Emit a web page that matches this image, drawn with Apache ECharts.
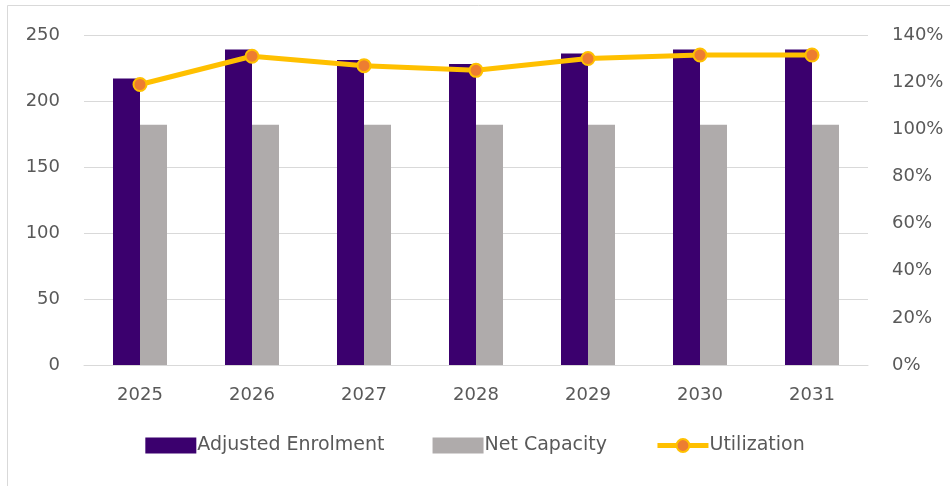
<!DOCTYPE html>
<html>
<head>
<meta charset="utf-8">
<title>chart</title>
<style>
  html, body { margin: 0; padding: 0; background: #fff; }
  #main { width: 950px; height: 486px; }
</style>
</head>
<body>
<div id="main"></div>
<script src="https://cdn.jsdelivr.net/npm/echarts@6/dist/echarts.min.js"></script>
<script>
var years = ['2025', '2026', '2027', '2028', '2029', '2030', '2031'];
var enrolment = [217, 239, 231, 228, 236, 239, 239];
var capacity = [182, 182, 182, 182, 182, 182, 182];
var utilization = [119, 131, 127, 125, 130, 131.5, 131.5];

var font = 'DejaVu Sans';
var textColor = '#595959';

var chart = echarts.init(document.getElementById('main'));
chart.setOption({
    backgroundColor: '#fff',
    animation: false,
    textStyle: { fontFamily: font },
    graphic: [
        { type: 'line', shape: { x1: 7.5, y1: 5.5, x2: 950, y2: 5.5 }, style: { stroke: '#d9d9d9', lineWidth: 1 } },
        { type: 'line', shape: { x1: 7.5, y1: 5.5, x2: 7.5, y2: 486 }, style: { stroke: '#d9d9d9', lineWidth: 1 } }
    ],
    legend: {
        bottom: 26,
        left: 'center',
        itemWidth: 51,
        itemHeight: 16,
        itemGap: 48,
        textStyle: { fontFamily: font, fontSize: 19, color: textColor, padding: [0, 0, 0, -4] },
        data: [
            { name: 'Adjusted Enrolment', icon: 'rect' },
            { name: 'Net Capacity', icon: 'rect' },
            { name: 'Utilization', lineStyle: { width: 5, color: '#ffc000' } }
        ]
    },
    grid: { left: 84, right: 82, top: 35, bottom: 121 },
    xAxis: {
        type: 'category',
        data: years,
        axisLine: { lineStyle: { color: '#d9d9d9', width: 1 } },
        axisTick: { show: false },
        axisLabel: { color: textColor, fontSize: 18, margin: 21, fontFamily: font }
    },
    yAxis: [{
        type: 'value',
        min: 0,
        max: 250,
        interval: 50,
        axisLine: { show: false },
        axisTick: { show: false },
        axisLabel: { color: textColor, fontSize: 18, margin: 24, fontFamily: font },
        splitLine: { lineStyle: { color: '#d9d9d9', width: 1 } }
    }, {
        type: 'value',
        min: 0,
        max: 140,
        interval: 20,
        axisLine: { show: false },
        axisTick: { show: false },
        axisLabel: { color: textColor, fontSize: 18, margin: 24, fontFamily: font, formatter: '{value}%' },
        splitLine: { show: false }
    }],
    series: [{
        name: 'Adjusted Enrolment',
        type: 'bar',
        data: enrolment,
        barWidth: 27,
        barGap: '0%',
        itemStyle: { color: '#3b006e' }
    }, {
        name: 'Net Capacity',
        type: 'bar',
        data: capacity,
        barWidth: 27,
        barGap: '0%',
        itemStyle: { color: '#afabab' }
    }, {
        name: 'Utilization',
        type: 'line',
        yAxisIndex: 1,
        data: utilization,
        symbol: 'circle',
        symbolSize: 13,
        lineStyle: { color: '#ffc000', width: 5 },
        itemStyle: { color: '#ed7d31', borderColor: '#ffc000', borderWidth: 2 },
        z: 5
    }]
});
</script>
</body>
</html>
